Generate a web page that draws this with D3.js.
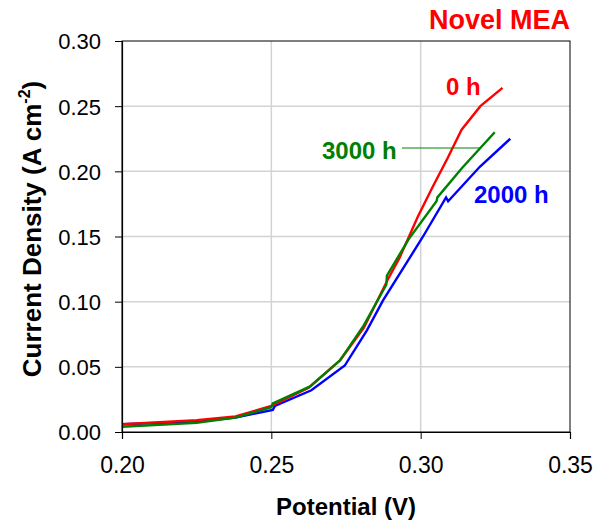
<!DOCTYPE html>
<html>
<head>
<meta charset="utf-8">
<script src="https://cdn.jsdelivr.net/npm/d3@7"></script>
<style>
  body { margin: 0; background: #fff; }
  svg text { font-family: "Liberation Sans", Arial, sans-serif; }
</style>
</head>
<body>
<div id="chart"></div>
<script>
// potential (V) and current density (A cm-2)
const pot0h = [0.200, 0.225, 0.238, 0.250, 0.2625, 0.273, 0.281, 0.289, 0.293, 0.299, 0.304, 0.309, 0.3137, 0.320, 0.3274];
const cur0h = [0.006, 0.009, 0.012, 0.020, 0.034, 0.055, 0.080, 0.117, 0.134, 0.165, 0.188, 0.210, 0.232, 0.250, 0.264];

const pot3000h = [0.200, 0.225, 0.238, 0.250, 0.2505, 0.263, 0.273, 0.281, 0.2885, 0.2887, 0.296, 0.3053, 0.3056, 0.314, 0.3248];
const cur3000h = [0.004, 0.007, 0.011, 0.019, 0.022, 0.035, 0.055, 0.082, 0.113, 0.120, 0.148, 0.177, 0.180, 0.203, 0.230];

const pot2000h = [0.200, 0.225, 0.238, 0.2505, 0.2512, 0.2634, 0.2746, 0.282, 0.2874, 0.3008, 0.3085, 0.3092, 0.3198, 0.330];
const cur2000h = [0.006, 0.008, 0.011, 0.017, 0.020, 0.032, 0.051, 0.078, 0.101, 0.150, 0.180, 0.177, 0.2035, 0.225];

const xTicks = [0.20, 0.25, 0.30, 0.35];
const yTicks = [0.00, 0.05, 0.10, 0.15, 0.20, 0.25, 0.30];

const series = [
  { name: "2000 h", color: "#0000ff", x: pot2000h, y: cur2000h },
  { name: "0 h", color: "#ff0000", x: pot0h, y: cur0h },
  { name: "3000 h", color: "#008000", x: pot3000h, y: cur3000h }
];

const W = 597, H = 520;
const margin = { top: 41, right: 27, bottom: 88, left: 122 };
const width = W - margin.left - margin.right,
      height = H - margin.top - margin.bottom;

const svg = d3.select("#chart").append("svg")
    .attr("width", W).attr("height", H);
const g = svg.append("g")
    .attr("transform", `translate(${margin.left},${margin.top})`);

const x = d3.scaleLinear().domain([0.20, 0.35]).range([0, width]);
const y = d3.scaleLinear().domain([0, 0.30]).range([height, 0]);

// grid
g.selectAll(".gx").data(xTicks.slice(1, -1)).enter().append("line")
    .attr("x1", d => x(d)).attr("x2", d => x(d))
    .attr("y1", 0).attr("y2", height)
    .attr("stroke", "#d3d3d3").attr("stroke-width", 1.5);
g.selectAll(".gy").data(yTicks.slice(1, -1)).enter().append("line")
    .attr("x1", 0).attr("x2", width)
    .attr("y1", d => y(d)).attr("y2", d => y(d))
    .attr("stroke", "#d3d3d3").attr("stroke-width", 1.5);

// frame
g.append("rect").attr("width", width).attr("height", height)
    .attr("fill", "none").attr("stroke", "#000").attr("stroke-width", 1);

// lines
const line = d3.line().x(d => x(d[0])).y(d => y(d[1]));
series.forEach(s => {
  g.append("path")
    .datum(s.x.map((v, i) => [v, s.y[i]]))
    .attr("d", line)
    .attr("fill", "none")
    .attr("stroke", s.color)
    .attr("stroke-width", 2.4)
    .attr("stroke-linejoin", "miter");
});

// axes
const xAxis = g.append("g")
    .attr("transform", `translate(0,${height})`)
    .call(d3.axisBottom(x).tickValues(xTicks).tickFormat(d3.format(".2f")).tickSizeOuter(0).tickSize(7));
const yAxis = g.append("g")
    .call(d3.axisLeft(y).tickValues(yTicks).tickFormat(d3.format(".2f")).tickSizeOuter(0).tickSize(7));
[xAxis, yAxis].forEach(a => {
  a.select(".domain").attr("stroke", "#000").attr("stroke-width", 1.2);
  a.selectAll(".tick line").attr("stroke", "#000");
  a.selectAll("text").attr("font-size", 23).attr("fill", "#000")
    .style("font-family", "Liberation Sans, Arial, sans-serif");
});
xAxis.selectAll("text").attr("y", 0).attr("dy", 0)
    .attr("transform", `translate(0,${473 - margin.top - height})`);
yAxis.selectAll("text").attr("font-size", 22).attr("x", -21).attr("dy", "0.36em");

// axis titles
svg.append("text")
    .attr("x", margin.left + width / 2).attr("y", 515)
    .attr("text-anchor", "middle")
    .attr("font-size", 24).attr("font-weight", "bold")
    .text("Potential (V)");

const yt = svg.append("text")
    .attr("transform", `translate(41,229) rotate(-90)`)
    .attr("text-anchor", "middle")
    .attr("font-size", 26).attr("font-weight", "bold");
yt.append("tspan").text("Current Density (A cm");
yt.append("tspan").attr("font-size", 16).attr("dy", -11).text("-2");
yt.append("tspan").attr("dy", 11).text(")");

// annotations
svg.append("text").attr("x", 570).attr("y", 29).attr("text-anchor", "end")
    .attr("font-size", 27).attr("font-weight", "bold").attr("fill", "#ff0000")
    .text("Novel MEA");
svg.append("text").attr("x", 446).attr("y", 95)
    .attr("font-size", 24).attr("font-weight", "bold").attr("fill", "#ff0000")
    .text("0 h");
svg.append("text").attr("x", 322).attr("y", 159)
    .attr("font-size", 24).attr("font-weight", "bold").attr("fill", "#008000")
    .text("3000 h");
svg.append("line")
    .attr("x1", 402).attr("x2", 480)
    .attr("y1", 148).attr("y2", 148)
    .attr("stroke", "#008000").attr("stroke-width", 1);
svg.append("text").attr("x", 474).attr("y", 203)
    .attr("font-size", 24).attr("font-weight", "bold").attr("fill", "#0000ff")
    .text("2000 h");
</script>
</body>
</html>
